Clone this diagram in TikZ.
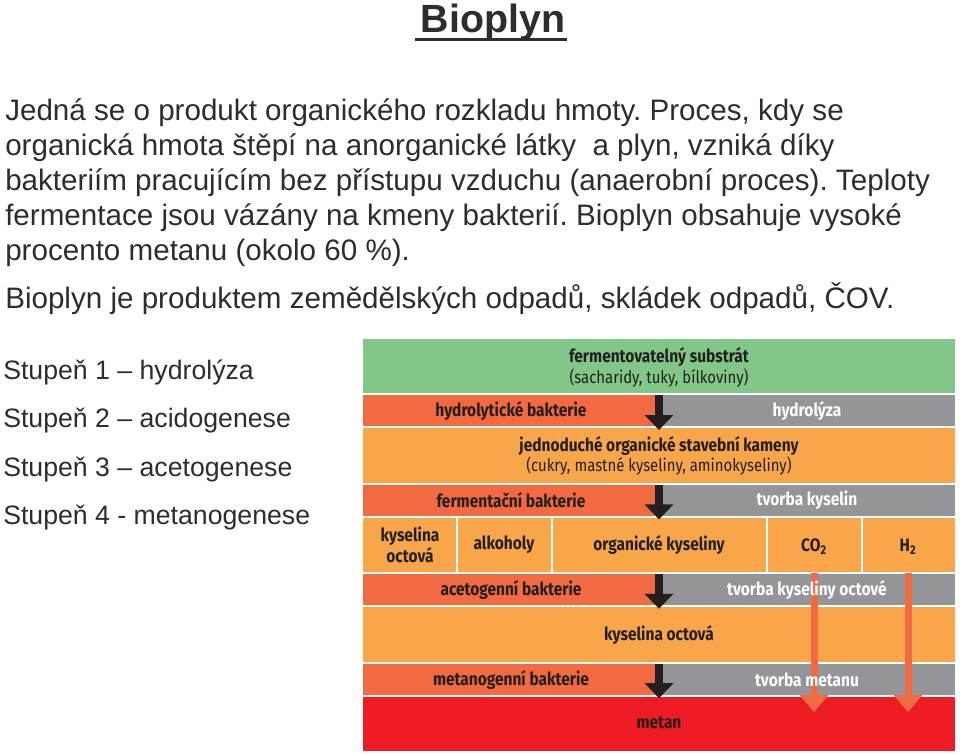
\documentclass[tikz,border=0pt]{standalone}
\usepackage{fontspec}
\setmainfont{Liberation Sans}
\newfontfamily\diafont{Fira Sans}[FakeStretch=0.86]
\usetikzlibrary{arrows.meta}
\frenchspacing

\definecolor{zelena}{RGB}{130,198,136}
\definecolor{cervena}{RGB}{241,106,66}
\definecolor{seda}{RGB}{147,149,152}
\definecolor{oranzova}{RGB}{249,166,74}
\definecolor{metanred}{RGB}{237,28,36}
\definecolor{tmava}{RGB}{35,31,32}
\definecolor{pismo}{RGB}{45,45,45}

\tikzset{
  radek/.style={anchor=base west, inner sep=0pt, text=pismo, font=\fontsize{22.2}{26}\selectfont},
  stupen/.style={radek, font=\fontsize{20}{24}\selectfont},
  popis/.style={inner sep=0pt, align=center, text=tmava, font=\diafont\bfseries\fontsize{13.5}{15.5}\selectfont},
  popistenky/.style={popis, font=\diafont\fontsize{13}{15}\selectfont},
  bily/.style={popis, text=white},
  sipka/.style={draw=tmava, line width=6pt, -{Triangle[width=21pt, length=11.25pt]}},
  oranzsipka/.style={draw=cervena, line width=5.25pt, -{Triangle[width=21pt, length=12.75pt]}},
}

\begin{document}
\begin{tikzpicture}[x=0.75pt, y=-0.75pt]
  \fill[white] (0,0) rectangle (960,754);
  \useasboundingbox (0,0) rectangle (960,754);

  % nadpis a text
  \node[anchor=base, inner sep=0pt, text=pismo, font=\bfseries\fontsize{29.5}{34}\selectfont] (nadpis) at (493,32) {Bioplyn};
  \draw[pismo, line width=2.25pt] ([xshift=-4pt, yshift=-5.6pt]nadpis.base west) -- ([xshift=1.5pt, yshift=-5.6pt]nadpis.base east);

  \node[radek] (t1) at (5,120) {Jedná se o produkt organického rozkladu hmoty. Proces, kdy se};
  \node[radek] (t2) at (5,155) {organická hmota štěpí na anorganické látky~ a plyn, vzniká díky};
  \node[radek] (t3) at (5,190) {bakteriím pracujícím bez přístupu vzduchu (anaerobní proces). Teploty};
  \node[radek] (t4) at (5,225) {fermentace jsou vázány na kmeny bakterií. Bioplyn obsahuje vysoké};
  \node[radek] (t5) at (5,260) {procento metanu (okolo 60 \%).};
  \node[radek] (t6) at (5,308) {Bioplyn je produktem zemědělských odpadů, skládek odpadů, ČOV.};

  \node[stupen] (s1) at (3,379) {Stupeň 1 – hydrolýza};
  \node[stupen] (s2) at (3,427) {Stupeň 2 – acidogenese};
  \node[stupen] (s3) at (3,476) {Stupeň 3 – acetogenese};
  \node[stupen] (s4) at (3,524) {Stupeň 4 - metanogenese};

  % pasy schematu
  \fill[zelena] (363,339) rectangle (955,393.4);
  \fill[oranzova] (363,428.4) rectangle (955,482.8);
  \fill[oranzova] (363,517.8) rectangle (955,572.2);
  \fill[oranzova] (363,607.2) rectangle (955,661.6);
  \fill[metanred] (363,696.6) rectangle (955,751);
  \foreach \x in {457,552,767,862}
    \fill[white] (\x-1,517.8) rectangle (\x+1,572.2);
  \foreach \t [count=\i] in {395.4,484.8,574.2,663.6} {
    \fill[cervena] (363,\t) rectangle (660,\t+31);
    \fill[seda] (660,\t) rectangle (955,\t+31);
    \coordinate (a\i) at (659,\t);
    \coordinate (b\i) at (659,\t+34.6);
    \draw[sipka] (a\i) -- (b\i);
  }

  % sipky od CO2 a H2
  \coordinate (co2a) at (814,573);
  \coordinate (co2b) at (814,712);
  \coordinate (h2a) at (908,573);
  \coordinate (h2b) at (908,712);
  \draw[oranzsipka] (co2a) -- (co2b);
  \draw[oranzsipka] (h2a) -- (h2b);

  % popisky
  \node[popis] (substrat) at (659,357) {fermentovatelný substrát};
  \node[popistenky] (substrat2) at (659,378) {(sacharidy, tuky, bílkoviny)};
  \node[popis] (hydrbakt) at (511,411) {hydrolytické bakterie};
  \node[bily] (hydrolyza) at (807,411) {hydrolýza};
  \node[popis] (kameny) at (659,446) {jednoduché organické stavební kameny};
  \node[popistenky] (kameny2) at (659,466) {(cukry, mastné kyseliny, aminokyseliny)};
  \node[popis] (fermbakt) at (511,500) {fermentační bakterie};
  \node[bily] (kyseliny) at (807,500) {tvorba kyselin};
  \node[popis] (octova) at (410,545) {kyselina\\octová};
  \node[popis] (alkoholy) at (504,545) {alkoholy};
  \node[popis] (orgkys) at (659,545) {organické kyseliny};
  \node[popis] (co2) at (814,547) {CO\textsubscript{2}};
  \node[popis] (h2) at (908,547) {H\textsubscript{2}};
  \node[popis] (acetbakt) at (511,590) {acetogenní bakterie};
  \node[bily] (tvorbaoct) at (807,590) {tvorba kyseliny octové};
  \node[popis] (octova2) at (659,635) {kyselina octová};
  \node[popis] (metbakt) at (511,680) {metanogenní bakterie};
  \node[bily] (tvorbamet) at (807,680) {tvorba metanu};
  \node[popis] (metan) at (659,723) {metan};
\end{tikzpicture}
\end{document}
